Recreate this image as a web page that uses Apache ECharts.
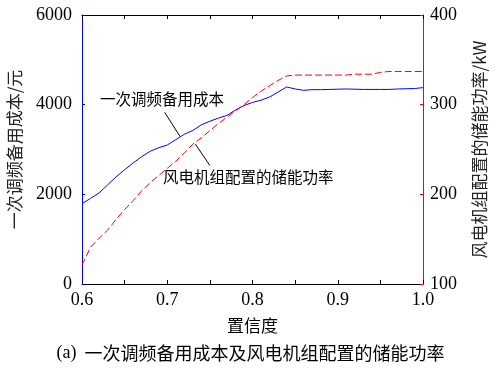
<!DOCTYPE html>
<html>
<head>
<meta charset="utf-8">
<script src="https://cdn.jsdelivr.net/npm/echarts@6/dist/echarts.min.js"></script>
<style>html,body{margin:0;padding:0;background:#fff}#c{width:501px;height:368px}</style>
</head>
<body>
<div id="c"></div>
<script>
// confidence levels (x)
const confidence = [0.60,0.61,0.62,0.63,0.64,0.65,0.66,0.67,0.68,0.69,0.70,0.71,0.72,0.73,0.74,0.75,0.76,0.77,0.78,0.79,0.80,0.81,0.82,0.83,0.84,0.85,0.86,0.87,0.88,0.89,0.90,0.91,0.92,0.93,0.94,0.95,0.96,0.97,0.98,0.99,1.00];
// primary frequency regulation reserve cost (元), left axis
const reserveCost = [1790,1910,2030,2210,2390,2550,2700,2840,2960,3040,3100,3220,3340,3425,3550,3630,3700,3760,3880,3980,4050,4100,4170,4280,4395,4350,4320,4335,4335,4340,4345,4350,4345,4340,4340,4340,4340,4350,4355,4360,4380];
// storage power configured for wind units (kW), right axis
const storagePower = [121,141,151,160,172,183,193,204,213,221,229,237,246,256,263,271,279,286,293,300,308,315,321,327,332,333,333,333,333,333,333,333,334,334,334,336,337,337,337,337,337];
const leftTicks = [0,2000,4000,6000];
const rightTicks = [100,200,300,400];
const xTicks = [0.6,0.7,0.8,0.9,1.0];

const serif = 'Liberation Serif';
const cjk = 'Noto Sans CJK SC';

const chart = echarts.init(document.getElementById('c'));
const pairs = (ys) => confidence.map((x, i) => [x, ys[i]]);

chart.setOption({
  animation: false,
  grid: {left: 82, right: 78, top: 15, bottom: 84, containLabel: false, outerBoundsMode: 'none'},
  xAxis: [{
    type: 'value', min: 0.6, max: 1.0, interval: 0.05, position: 'bottom',
    name: '置信度', nameLocation: 'middle', nameGap: 33,
    nameTextStyle: {fontFamily: cjk, fontSize: 17, color: '#000'},
    axisLine: {lineStyle: {color: '#000', width: 1}},
    axisTick: {inside: true, length: 4, lineStyle: {color: '#000'}},
    axisLabel: {margin: 7, fontFamily: serif, fontSize: 18, color: '#000',
      formatter: v => {
        const hit = xTicks.find(t => Math.abs(t - v) < 1e-6);
        return hit !== undefined ? hit.toFixed(1) : '';
      }},
    splitLine: {show: false}
  }, {
    type: 'value', min: 0.6, max: 1.0, interval: 0.05, position: 'top',
    axisLine: {lineStyle: {color: '#000', width: 1}},
    axisTick: {inside: true, length: 4, lineStyle: {color: '#000'}},
    axisLabel: {show: false}, splitLine: {show: false}
  }],
  yAxis: [{
    type: 'value', min: 0, max: 6000, interval: 2000, position: 'left',
    name: '一次调频备用成本/元', nameLocation: 'middle', nameGap: 59, nameRotate: 90,
    nameTextStyle: {fontFamily: cjk, fontSize: 17, color: '#222'},
    axisLine: {show: true, lineStyle: {color: '#0000ff', width: 1}},
    axisTick: {show: true, inside: true, length: 3, lineStyle: {color: '#0000ff'}},
    axisLabel: {margin: 10, fontFamily: serif, fontSize: 18, color: '#000', formatter: v => String(v)},
    splitLine: {show: false}
  }, {
    type: 'value', min: 100, max: 400, interval: 100, position: 'right',
    name: '风电机组配置的储能功率/kW', nameLocation: 'middle', nameGap: 48, nameRotate: 90,
    nameTextStyle: {fontFamily: cjk, fontSize: 17, color: '#222'},
    axisLine: {show: true, lineStyle: {color: '#ff0000', width: 1}},
    axisTick: {show: true, inside: true, length: 3, lineStyle: {color: '#ff0000'}},
    axisLabel: {margin: 7, fontFamily: serif, fontSize: 18, color: '#000', formatter: v => String(v)},
    splitLine: {show: false}
  }],
  series: [{
    name: '一次调频备用成本', type: 'line', xAxisIndex: 0, yAxisIndex: 0,
    data: pairs(reserveCost), showSymbol: false, symbol: 'none',
    lineStyle: {color: '#0000ff', width: 1}, itemStyle: {color: '#0000ff'},
    markLine: {silent: true, symbol: 'none', label: {show: false},
      lineStyle: {color: '#000', width: 1, type: 'solid'},
      data: [[{coord: [0.697, 3830]}, {coord: [0.715, 3290]}]]}
  }, {
    name: '风电机组配置的储能功率', type: 'line', xAxisIndex: 0, yAxisIndex: 1,
    data: pairs(storagePower), showSymbol: false, symbol: 'none',
    lineStyle: {color: '#ff0000', width: 1, type: [7, 3]}, itemStyle: {color: '#ff0000'},
    markLine: {silent: true, symbol: 'none', label: {show: false},
      lineStyle: {color: '#000', width: 1, type: 'solid'},
      data: [[{coord: [0.733, 256]}, {coord: [0.750, 232]}]]}
  }],
  graphic: [
    {type: 'text', left: 100, top: 91, style: {text: '一次调频备用成本', fontFamily: cjk, fontSize: 15.5, fill: '#000'}},
    {type: 'text', left: 163, top: 169, style: {text: '风电机组配置的储能功率', fontFamily: cjk, fontSize: 15.5, fill: '#000'}},
    {type: 'text', left: 'center', top: 344, style: {
      text: '{s|(a)}  一次调频备用成本及风电机组配置的储能功率', fontFamily: cjk, fontSize: 18, fill: '#000',
      rich: {s: {fontFamily: serif, fontSize: 18, fill: '#000'}}}}
  ]
});
</script>
</body>
</html>
